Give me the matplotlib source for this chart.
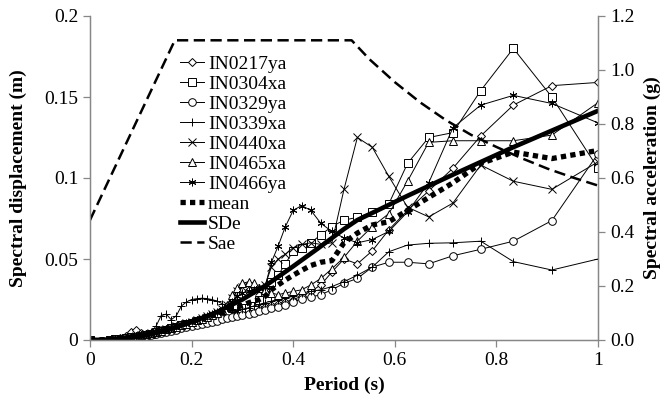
import matplotlib
matplotlib.use("Agg")
import matplotlib.pyplot as plt
from matplotlib.ticker import FormatStrFormatter, FuncFormatter

plt.rcParams['font.family'] = ['Liberation Serif', 'DejaVu Serif']
plt.rcParams['font.size'] = 14

# periods (s) of the record spectra
period = [0, 0.04, 0.05, 0.06, 0.07, 0.08, 0.09, 0.10, 0.11, 0.12, 0.13, 0.14, 0.15,
          0.16, 0.17, 0.18, 0.19, 0.20, 0.21, 0.22, 0.23, 0.24, 0.25, 0.26, 0.27,
          0.28, 0.29, 0.30,
          0.3125, 0.3226, 0.3333, 0.3448, 0.3571, 0.3704, 0.3846, 0.4, 0.4167, 0.4348,
          0.4545, 0.4762, 0.5, 0.5263, 0.5556, 0.5882, 0.625, 0.6667, 0.7143, 0.7692,
          0.8333, 0.9091, 1.0]

in0217ya = [0, 0.0003, 0.0006, 0.0012, 0.0022, 0.0048, 0.0060, 0.0042, 0.0035, 0.0040, 0.0046,
            0.0052, 0.0058, 0.0065, 0.0072, 0.0079, 0.0086, 0.0093, 0.0100, 0.0107, 0.0114,
            0.0121, 0.0129, 0.0137, 0.0145, 0.0153, 0.0162, 0.0172,
            0.0180, 0.0188, 0.0196, 0.0205, 0.0214, 0.0224, 0.0235, 0.0250, 0.0270, 0.0300,
            0.0340, 0.0420, 0.0500, 0.0470, 0.0550, 0.0680, 0.0800, 0.0920, 0.1060, 0.1260,
            0.1450, 0.1570, 0.1590]
in0304xa = [0, 0.0003, 0.0005, 0.0008, 0.0012, 0.0016, 0.0021, 0.0027, 0.0033, 0.0040, 0.0047,
            0.0055, 0.0063, 0.0072, 0.0081, 0.0090, 0.0099, 0.0108, 0.0117, 0.0126, 0.0135,
            0.0145, 0.0155, 0.0165, 0.0178, 0.0195, 0.0205, 0.0200,
            0.0195, 0.0210, 0.0250, 0.0310, 0.0360, 0.0400, 0.0470, 0.0550, 0.0570, 0.0600,
            0.0650, 0.0700, 0.0740, 0.0757, 0.0790, 0.0840, 0.1090, 0.1250, 0.1280, 0.1540,
            0.1800, 0.1500, 0.1060]
in0329ya = [0, 0.0002, 0.0004, 0.0006, 0.0009, 0.0013, 0.0017, 0.0022, 0.0027, 0.0032, 0.0038,
            0.0044, 0.0050, 0.0057, 0.0064, 0.0071, 0.0078, 0.0085, 0.0092, 0.0099, 0.0106,
            0.0113, 0.0120, 0.0127, 0.0134, 0.0141, 0.0148, 0.0155,
            0.0160, 0.0168, 0.0176, 0.0185, 0.0195, 0.0205, 0.0215, 0.0235, 0.0255, 0.0265,
            0.0280, 0.0310, 0.0350, 0.0380, 0.0450, 0.0480, 0.0480, 0.0470, 0.0520, 0.0560,
            0.0610, 0.0737, 0.1150]
in0339xa = [0, 0.0003, 0.0006, 0.0009, 0.0013, 0.0018, 0.0024, 0.0030, 0.0038, 0.0050, 0.0085,
            0.0150, 0.0160, 0.0125, 0.0150, 0.0210, 0.0235, 0.0250, 0.0255, 0.0258, 0.0256,
            0.0250, 0.0240, 0.0225, 0.0205, 0.0190, 0.0185, 0.0190,
            0.0200, 0.0210, 0.0220, 0.0230, 0.0240, 0.0250, 0.0260, 0.0270, 0.0290, 0.0300,
            0.0310, 0.0330, 0.0360, 0.0400, 0.0450, 0.0545, 0.0586, 0.0597, 0.0600, 0.0610,
            0.0484, 0.0432, 0.0500]
in0440xa = [0, 0.0003, 0.0005, 0.0009, 0.0013, 0.0018, 0.0023, 0.0029, 0.0036, 0.0043, 0.0051,
            0.0060, 0.0068, 0.0076, 0.0085, 0.0094, 0.0104, 0.0114, 0.0124, 0.0135, 0.0146,
            0.0158, 0.0172, 0.0190, 0.0215, 0.0260, 0.0305, 0.0330,
            0.0335, 0.0320, 0.0300, 0.0340, 0.0450, 0.0500, 0.0530, 0.0570, 0.0590, 0.0600,
            0.0590, 0.0600, 0.0930, 0.1250, 0.1190, 0.1010, 0.0820, 0.0760, 0.0845, 0.1080,
            0.0980, 0.0930, 0.1100]
in0465xa = [0, 0.0003, 0.0005, 0.0008, 0.0012, 0.0017, 0.0022, 0.0028, 0.0034, 0.0041, 0.0049,
            0.0057, 0.0065, 0.0074, 0.0083, 0.0092, 0.0101, 0.0111, 0.0121, 0.0131, 0.0142,
            0.0153, 0.0166, 0.0185, 0.0215, 0.0280, 0.0320, 0.0350,
            0.0360, 0.0350, 0.0320, 0.0310, 0.0290, 0.0280, 0.0290, 0.0300, 0.0310, 0.0340,
            0.0380, 0.0440, 0.0510, 0.0610, 0.0700, 0.0780, 0.0980, 0.1220, 0.1230, 0.1230,
            0.1230, 0.1265, 0.1465]
in0466ya = [0, 0.0003, 0.0005, 0.0008, 0.0012, 0.0017, 0.0022, 0.0028, 0.0035, 0.0042, 0.0050,
            0.0059, 0.0068, 0.0077, 0.0086, 0.0096, 0.0106, 0.0116, 0.0126, 0.0137, 0.0148,
            0.0160, 0.0172, 0.0186, 0.0205, 0.0235, 0.0270, 0.0290,
            0.0300, 0.0310, 0.0320, 0.0330, 0.0480, 0.0580, 0.0700, 0.0800, 0.0830, 0.0800,
            0.0720, 0.0670, 0.0630, 0.0600, 0.0620, 0.0670, 0.0790, 0.0970, 0.1310, 0.1450,
            0.1510, 0.1460, 0.1340]
mean_sd = [0, 0.0003, 0.0005, 0.0008, 0.0012, 0.0017, 0.0022, 0.0027, 0.0033, 0.0040, 0.0050,
           0.0062, 0.0070, 0.0075, 0.0083, 0.0094, 0.0104, 0.0113, 0.0122, 0.0131, 0.0140,
           0.0150, 0.0160, 0.0170, 0.0180, 0.0193, 0.0203, 0.0213,
           0.0230, 0.0240, 0.0250, 0.0270, 0.0310, 0.0340, 0.0370, 0.0400, 0.0430, 0.0460,
           0.0480, 0.0490, 0.0600, 0.0660, 0.0710, 0.0730, 0.0800, 0.0880, 0.0970, 0.1090,
           0.1160, 0.1120, 0.1170]

# elastic code spectra
sde_period = [0, 0.05, 0.1, 0.15, 0.2, 0.25, 0.3, 0.35, 0.4, 0.45, 0.5, 0.526, 0.556,
              0.625, 0.714, 0.833, 1.0]
sde = [0, 0.0004, 0.0021, 0.0058, 0.0110, 0.0172, 0.0250, 0.0345, 0.0455, 0.0568, 0.0685,
       0.0740, 0.0785, 0.0890, 0.1020, 0.1190, 0.1415]
sae_period = [0, 0.167, 0.515, 0.55, 0.6, 0.65, 0.7, 0.75, 0.8, 0.85, 0.9, 0.95, 1.0]
sae = [0.444, 1.11, 1.11, 1.04, 0.955, 0.88, 0.815, 0.76, 0.715, 0.673, 0.635, 0.602, 0.572]

records = [("IN0217ya", in0217ya, 'D'), ("IN0304xa", in0304xa, 's'),
           ("IN0329ya", in0329ya, 'o'), ("IN0339xa", in0339xa, '+'),
           ("IN0440xa", in0440xa, 'x'), ("IN0465xa", in0465xa, '^'),
           ("IN0466ya", in0466ya, (6, 2, 0))]

grey = '#878787'

fig = plt.figure(figsize=(6.63, 4.0), dpi=100)
ax = fig.add_axes([0.1357, 0.15, 0.7663, 0.81])
ax2 = ax.twinx()

for name, vals, mk in records:
    ms = 4 if mk == 'D' else 5.5
    ax.plot(period, vals, color='black', lw=0.7, marker=mk, ms=ms,
            mfc='white', mec='black', mew=0.7, label=name)
ax.plot(period, mean_sd, color='black', lw=3.8, linestyle=(0, (1, 0.8)),
        dash_capstyle='butt', label='mean')
ax.plot(sde_period, sde, color='black', lw=3.3, label='SDe')
ax2.plot(sae_period, sae, color='black', lw=1.8, linestyle=(0, (4.5, 2.2)),
         label='Sae')

ax.set_xlim(0, 1)
ax.set_ylim(0, 0.2)
ax2.set_ylim(0, 1.2)
ax.set_xticks([0, 0.2, 0.4, 0.6, 0.8, 1])
ax.set_yticks([0, 0.05, 0.1, 0.15, 0.2])
ax2.set_yticks([0, 0.2, 0.4, 0.6, 0.8, 1.0, 1.2])
ax.xaxis.set_major_formatter(FuncFormatter(lambda v, p: ('%g' % round(v, 2))))
ax.yaxis.set_major_formatter(FuncFormatter(lambda v, p: ('%g' % round(v, 2))))
ax2.yaxis.set_major_formatter(FormatStrFormatter('%.1f'))

for a in (ax, ax2):
    a.spines['top'].set_visible(False)
    for s in ('left', 'right', 'bottom'):
        a.spines[s].set_color(grey)
        a.spines[s].set_linewidth(0.9)
    a.tick_params(direction='out', length=5, width=0.9, color=grey, labelsize=14)

ax.set_xlabel('Period (s)', fontweight='bold', fontsize=14, labelpad=6)
ax.set_ylabel('Spectral displacement (m)', fontweight='bold', fontsize=14, labelpad=12)
ax2.set_ylabel('Spectral acceleration (g)', fontweight='bold', fontsize=14,
               rotation=90, labelpad=7)

h1, l1 = ax.get_legend_handles_labels()
h2, l2 = ax2.get_legend_handles_labels()
ax2.legend(h1 + h2, l1 + l2, loc='upper left', bbox_to_anchor=(0.177, 0.878),
           frameon=False, fontsize=14, handlelength=1.25, handletextpad=0.2,
           labelspacing=0.12, borderpad=0, borderaxespad=0)

fig.savefig('out.png', dpi=100)
